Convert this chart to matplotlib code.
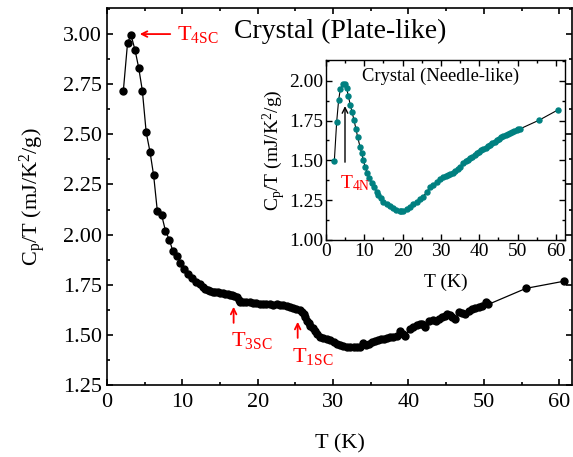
import numpy as np
import matplotlib
matplotlib.use("Agg")
import matplotlib.pyplot as plt
from matplotlib.ticker import MultipleLocator, FormatStrFormatter

plt.rcParams['font.family'] = ['Liberation Serif', 'DejaVu Serif']
plt.rcParams['mathtext.fontset'] = 'custom'
plt.rcParams['mathtext.rm'] = 'Liberation Serif'
plt.rcParams['mathtext.default'] = 'regular'

# plate-like crystal (main panel)
T_plate = [2.17, 2.73, 3.19, 3.72, 4.2, 4.69, 5.2, 5.71, 6.19, 6.68, 7.26, 7.75,
           8.28, 8.72, 9.25, 9.74, 10.2, 10.8, 11.25, 11.8, 12.3, 12.7, 13.0, 13.4,
           13.7, 14.0, 14.3, 14.7, 15.0, 15.4, 15.7, 16.0, 16.3, 16.6, 16.9, 17.2,
           17.5, 17.7, 18.1, 18.5, 19.0, 19.4, 19.8, 20.3, 20.7, 21.1, 21.6, 22.0,
           22.5, 23.0, 23.4, 23.9, 24.3, 24.7, 25.1, 25.6, 25.9, 26.1, 26.3, 26.5,
           26.8, 27.0, 27.3, 27.6, 27.9, 28.3, 28.7, 29.2, 29.6, 30.1, 30.5, 30.9,
           31.3, 31.8, 32.3, 32.8, 33.2, 33.6, 34.0, 34.4, 34.8, 35.2, 35.6, 36.0,
           36.3, 36.7, 37.2, 37.6, 38.0, 38.5, 38.9, 39.3, 39.6, 40.2, 40.6, 41.1,
           41.5, 41.8, 42.2, 42.7, 43.2, 43.6, 44.0, 44.4, 44.8, 45.1, 45.5, 45.8,
           46.2, 46.7, 47.1, 47.5, 48.0, 48.4, 48.8, 49.3, 49.8, 50.3, 50.6, 55.6,
           60.7]
C_plate = [2.718, 2.957, 2.995, 2.92, 2.833, 2.718, 2.51, 2.412, 2.295, 2.117, 2.096, 2.02,
           1.973, 1.92, 1.892, 1.857, 1.828, 1.806, 1.786, 1.763, 1.752, 1.74, 1.727, 1.722,
           1.718, 1.716, 1.713, 1.712, 1.711, 1.708, 1.705, 1.703, 1.70, 1.697, 1.693, 1.687,
           1.675, 1.662, 1.663, 1.664, 1.662, 1.66, 1.657, 1.654, 1.656, 1.652, 1.654, 1.651,
           1.653, 1.649, 1.647, 1.642, 1.637, 1.634, 1.63, 1.625, 1.615, 1.604, 1.588, 1.571,
           1.558, 1.546, 1.534, 1.521, 1.506, 1.491, 1.485, 1.48, 1.472, 1.463, 1.455, 1.447,
           1.443, 1.441, 1.439, 1.438, 1.439, 1.439, 1.458, 1.447, 1.452, 1.462, 1.470, 1.472,
           1.478, 1.48, 1.484, 1.488, 1.49, 1.495, 1.52, 1.505, 1.493, 1.53, 1.54, 1.55,
           1.556, 1.554, 1.538, 1.571, 1.572, 1.571, 1.58, 1.588, 1.596, 1.604, 1.598, 1.588,
           1.579, 1.613, 1.61, 1.604, 1.618, 1.629, 1.632, 1.637, 1.645, 1.662, 1.652, 1.732,
           1.768]

# needle-like crystal (inset)
T_needle = [2.18, 2.79, 3.3, 3.74, 4.35, 4.96, 5.4, 5.83, 6.35, 6.8, 7.3, 7.83, 8.27,
            8.88, 9.32, 9.74, 10.2, 10.8, 11.3, 11.9, 12.6, 13.2, 13.6, 14.4, 15.0,
            15.8, 16.7, 17.6, 18.4, 19.3, 19.7, 20.2, 21.1, 21.9, 22.8, 23.7, 24.5,
            25.4, 26.3, 27.2, 28.0, 28.9, 29.8, 30.6, 31.2, 31.9, 32.5, 33.2, 33.8,
            34.5, 35.1, 35.8, 36.5, 37.0, 37.6, 38.2, 38.8, 39.3, 39.9, 40.5, 41.1,
            41.7, 42.2, 42.8, 43.4, 44.0, 44.6, 45.2, 45.7, 46.3, 46.9, 47.4, 48.0,
            48.6, 49.2, 49.8, 50.2, 50.6, 55.7, 60.5]
C_needle = [1.498, 1.743, 1.879, 1.946, 1.977, 1.977, 1.952, 1.904, 1.847, 1.805, 1.753, 1.697, 1.645,
            1.586, 1.544, 1.502, 1.46, 1.419, 1.387, 1.356, 1.331, 1.303, 1.282, 1.262, 1.24,
            1.226, 1.213, 1.199, 1.188, 1.184, 1.183, 1.184, 1.193, 1.209, 1.226, 1.24, 1.255,
            1.272, 1.303, 1.331, 1.345, 1.366, 1.381, 1.393, 1.40, 1.408, 1.415, 1.422, 1.432,
            1.444, 1.46, 1.481, 1.495, 1.503, 1.513, 1.523, 1.535, 1.544, 1.553, 1.562, 1.569,
            1.578, 1.587, 1.596, 1.607, 1.618, 1.628, 1.637, 1.645, 1.653, 1.66, 1.667, 1.674,
            1.68, 1.685, 1.69, 1.694, 1.697, 1.753, 1.816]

teal = "#008080"
red = "#ff0000"

fig = plt.figure(figsize=(5.73, 4.57), dpi=100)
ax = fig.add_axes([107 / 573, 1 - 385 / 457, 465 / 573, 377 / 457])
ax.plot(T_plate, C_plate, '-', color='black', lw=0.9, zorder=2)
ax.plot(T_plate, C_plate, 'o', color='black', ms=5, zorder=3)
ax.set_xlim(0, 61.7)
ax.set_ylim(1.25, 3.13)
ax.xaxis.set_major_locator(MultipleLocator(10))
ax.xaxis.set_minor_locator(MultipleLocator(5))
ax.yaxis.set_major_locator(MultipleLocator(0.25))
ax.yaxis.set_minor_locator(MultipleLocator(0.125))
ax.yaxis.set_major_formatter(FormatStrFormatter('%.2f'))
ax.tick_params(which='both', direction='in', top=True, right=True, width=1.2, labelsize=16)
ax.tick_params(which='major', length=4.5)
ax.tick_params(which='minor', length=2.5)
ax.tick_params(axis='x', pad=6)
for s in ax.spines.values():
    s.set_linewidth(1.2)
ax.set_xlabel("T (K)", fontsize=16, labelpad=16)
ax.set_ylabel(r"C$_p$/T (mJ/K$^2$/g)", fontsize=16, labelpad=11)
ax.text(30.9, 3.015, "Crystal (Plate-like)", fontsize=20, ha='center', va='center')

ax.annotate('', xy=(3.98, 3.0), xytext=(8.76, 3.0),
            arrowprops=dict(arrowstyle='->', color=red, lw=1.3))
ax.text(9.3, 2.970, r"T$_{4SC}$", color=red, fontsize=16, va='baseline')
ax.annotate('', xy=(16.8, 1.654), xytext=(16.8, 1.546),
            arrowprops=dict(arrowstyle='->', color=red, lw=1.3))
ax.text(16.4, 1.442, r"T$_{3SC}$", color=red, fontsize=16, va='baseline')
ax.annotate('', xy=(25.3, 1.579), xytext=(25.3, 1.471),
            arrowprops=dict(arrowstyle='->', color=red, lw=1.3))
ax.text(24.5, 1.364, r"T$_{1SC}$", color=red, fontsize=16, va='baseline')

# inset
ins = fig.add_axes([326 / 573, 1 - 240 / 457, 239 / 573, 180 / 457])
ins.plot(T_needle, C_needle, '-', color='black', lw=0.8, zorder=2)
ins.plot(T_needle, C_needle, 'o', color=teal, ms=3.6, zorder=3)
ins.set_xlim(0, 62.4)
ins.set_ylim(1.0, 2.13)
ins.xaxis.set_major_locator(MultipleLocator(10))
ins.xaxis.set_minor_locator(MultipleLocator(5))
ins.yaxis.set_major_locator(MultipleLocator(0.25))
ins.yaxis.set_minor_locator(MultipleLocator(0.125))
ins.yaxis.set_major_formatter(FormatStrFormatter('%.2f'))
ins.tick_params(which='both', direction='in', top=True, right=True, width=1.0, labelsize=14, pad=2)
ins.tick_params(which='major', length=4)
ins.tick_params(which='minor', length=2)
for s in ins.spines.values():
    s.set_linewidth(1.0)
ins.set_xlabel("T (K)", fontsize=14, labelpad=10)
ins.set_ylabel(r"C$_p$/T (mJ/K$^2$/g)", fontsize=14, labelpad=1)
ins.text(30.0, 2.025, "Crystal (Needle-like)", fontsize=13.3, ha='center', va='center')
ins.annotate('', xy=(4.96, 1.858), xytext=(4.96, 1.471),
             arrowprops=dict(arrowstyle='->', color='black', lw=1.0))
ins.text(3.65, 1.325, r"T$_{4N}$", color=red, fontsize=14, va='baseline')

fig.savefig("out.png", dpi=100)
